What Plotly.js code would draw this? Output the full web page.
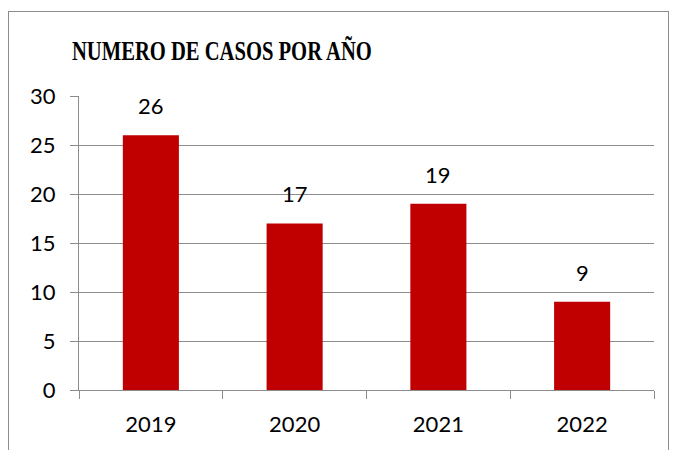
<!DOCTYPE html>
<html><head><meta charset="utf-8">
<script src="https://cdn.plot.ly/plotly-3.0.1.min.js"></script>
<style>
html,body{margin:0;padding:0;background:#fff;}
#wrap{position:relative;width:673px;height:450px;}
#frame{position:absolute;left:8px;top:11px;width:661px;height:460px;border:1px solid #8c8c8c;box-sizing:border-box;pointer-events:none;}
#chart{position:absolute;left:0;top:0;width:673px;height:450px;}
</style></head>
<body><div id="wrap"><div id="chart"></div><div id="frame"></div></div>
<script>
const years = ['2019','2020','2021','2022'];
const cases = [26, 17, 19, 9];
const yTicks = [0,5,10,15,20,25,30];

const font = "Lato, 'Open Sans', sans-serif";
const labels = years.map((y,i)=>({x:i, y:cases[i], text:String(cases[i]), showarrow:false,
  yanchor:'bottom', yshift:14, font:{family:font, size:22, color:'#000'}}));
Plotly.newPlot('chart', [{
  type:'bar', x:years, y:cases,
  marker:{color:'#c00000'},
  width:0.39
}], {
  width:673, height:450,
  margin:{l:79, r:19, t:96, b:60},
  paper_bgcolor:'rgba(0,0,0,0)', plot_bgcolor:'#fff',
  showlegend:false,
  annotations:labels,
  title:{text:'<b>NUMERO DE CASOS POR AÑO</b>', x:72/673, xanchor:'left', y:1-51/450, yanchor:'middle',
    font:{family:"'Liberation Serif', serif", size:27, color:'#000'}},
  xaxis:{type:'category', range:[-0.5, years.length-0.5], showline:true, linecolor:'#8c8c8c', linewidth:1,
    ticks:'outside', tickson:'boundaries', ticklen:8, tickcolor:'#8c8c8c',
    tickfont:{family:font, size:22, color:'#000'}, ticklabelstandoff:15, showgrid:false},
  yaxis:{range:[0,30], tickvals:yTicks, showline:true, linecolor:'#8c8c8c', linewidth:1,
    ticks:'outside', ticklen:8, tickcolor:'#8c8c8c',
    gridcolor:'#8c8c8c', gridwidth:1, zeroline:false,
    tickfont:{family:font, size:22, color:'#000'}, ticklabelstandoff:10}
}, {staticPlot:true}).then(gd=>{
  const t = gd.querySelector('.gtitle');
  if(t){
    const w = t.getBBox().width;
    const s = 300 / w;
    t.setAttribute('transform', `translate(72,0) scale(${s},1) translate(-72,0)`);
  }
});
</script></body></html>
